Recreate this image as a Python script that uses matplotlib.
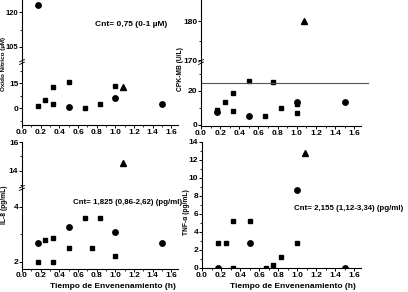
import matplotlib
matplotlib.use("Agg")
import matplotlib.pyplot as plt
from matplotlib.lines import Line2D
from matplotlib.transforms import Bbox, TransformedBbox

plt.rcParams['font.family'] = ['Liberation Sans', 'DejaVu Sans']
plt.rcParams['font.weight'] = 'bold'

# ---------------- data ----------------
# Óxido Nítrico (µM)
no_sq_t = [0.17, 0.25, 0.33, 0.33, 0.5, 0.67, 0.83, 1.0]
no_sq_v = [1.4, 4.8, 13.0, 2.8, 15.6, 0.0, 2.4, 13.6]
no_ci_t = [0.17, 0.5, 1.0, 1.5]
no_ci_v = [123.2, 1.0, 6.2, 2.8]
no_tr_t = [1.08]
no_tr_v = [12.6]

# CPK-MB (U/L)
ck_sq_t = [0.17, 0.25, 0.33, 0.33, 0.5, 0.67, 0.75, 0.83, 1.0, 1.0]
ck_sq_v = [8.5, 13.4, 18.6, 8.2, 26.0, 5.2, 25.2, 10.0, 6.8, 12.3]
ck_ci_t = [0.17, 0.5, 1.0, 1.5]
ck_ci_v = [7.6, 5.2, 13.2, 13.6]
ck_tr_t = [1.08]
ck_tr_v = [180.0]
ck_ref = 24.5

# IL-8 (pg/mL)
il_sq_t = [0.17, 0.25, 0.33, 0.33, 0.5, 0.67, 0.75, 0.83, 1.0]
il_sq_v = [2.0, 2.79, 2.87, 2.0, 2.5, 3.58, 2.5, 3.58, 2.19]
il_ci_t = [0.17, 0.5, 1.0, 1.5]
il_ci_v = [2.68, 3.27, 3.07, 2.68]
il_tr_t = [1.08]
il_tr_v = [14.55]

# TNF-α (pg/mL)
tn_sq_t = [0.17, 0.25, 0.33, 0.33, 0.5, 0.67, 0.75, 0.83, 1.0]
tn_sq_v = [2.8, 2.8, 5.2, 0.0, 5.2, 0.0, 0.3, 1.2, 2.8]
tn_ci_t = [0.17, 0.5, 1.0, 1.5]
tn_ci_v = [0.0, 2.8, 8.7, 0.0]
tn_tr_t = [1.08]
tn_tr_v = [12.8]

x_ticks = [0.0, 0.2, 0.4, 0.6, 0.8, 1.0, 1.2, 1.4, 1.6]
x_ticklabels = ['0.0', '0.2', '0.4', '0.6', '0.8', '1.0', '1.2', '1.4', '1.6']

W, H = 408, 292
fig = plt.figure(figsize=(W / 100, H / 100), dpi=100)
XLIM = (0, 1.67)


def ax_px(l, t, r, b):
    return fig.add_axes([l / W, 1 - b / H, (r - l) / W, (b - t) / H])


def style(ax, xaxis=True):
    for s in ('top', 'right'):
        ax.spines[s].set_visible(False)
    ax.spines['left'].set_linewidth(0.8)
    ax.spines['bottom'].set_linewidth(0.8)
    ax.set_xlim(*XLIM)
    ax.tick_params(direction='out', length=2.0, width=0.7, labelsize=6, pad=0.6)
    ax.tick_params(which='minor', direction='out', length=1.3, width=0.6)
    if xaxis:
        ax.set_xticks(x_ticks)
        ax.set_xticklabels(x_ticklabels)
        ax.set_xticks([0.1, 0.3, 0.5, 0.7, 0.9, 1.1, 1.3, 1.5], minor=True)
    else:
        ax.spines['bottom'].set_visible(False)
        ax.set_xticks([])
        ax.set_xticks([], minor=True)
    ax.patch.set_alpha(0)


def plot_series(ax, sq, ci, tr):
    ax.plot(sq[0], sq[1], 's', ms=2.6, color='k', mec='k')
    ax.plot(ci[0], ci[1], 'o', ms=3.9, color='k', mec='k')
    ax.plot(tr[0], tr[1], '^', ms=3.8, color='k', mec='k')


def break_mark(xpx, ypx):
    for dy in (-1.3, 1.3):
        fig.add_artist(Line2D([(xpx - 2.5) / W, (xpx + 2.5) / W],
                              [1 - (ypx + dy + 1.2) / H, 1 - (ypx + dy - 1.2) / H],
                              transform=fig.transFigure, lw=0.6, color='k'))


# ---------------- top-left: Óxido Nítrico ----------------
tl_lo = ax_px(22, 62, 178, 125)
tl_hi = ax_px(22, 0, 178, 62)
for a in (tl_lo, tl_hi):
    plot_series(a, (no_sq_t, no_sq_v), (no_ci_t, no_ci_v), (no_tr_t, no_tr_v))
style(tl_lo)
style(tl_hi, xaxis=False)
tl_hi.tick_params(labelsize=5.4)
tl_lo.set_ylim(-10, 27.8)
tl_lo.set_yticks([0, 15])
tl_lo.set_yticks([-7.5, 7.5, 22.5], minor=True)
tl_hi.set_ylim(98.3, 125.4)
tl_hi.set_yticks([105, 120])
tl_hi.set_yticks([112.5], minor=True)
break_mark(22, 62)
fig.text(3.2 / W, 1 - 64 / H, 'Óxido Nítrico (µM)', rotation=90, ha='center', va='center', fontsize=4.5)
fig.text(95 / W, 1 - 25 / H, 'Cnt= 0,75 (0-1 µM)', ha='left', va='center', fontsize=6)

# ---------------- top-right: CPK-MB ----------------
tr_lo = ax_px(201, 62, 361, 126)
tr_hi = ax_px(201, 0, 361, 62)
for a in (tr_lo, tr_hi):
    plot_series(a, (ck_sq_t, ck_sq_v), (ck_ci_t, ck_ci_v), (ck_tr_t, ck_tr_v))
style(tr_lo)
style(tr_hi, xaxis=False)
tr_lo.set_ylim(-0.8, 36.9)
tr_lo.set_yticks([0, 20])
tr_lo.set_yticks([10, 30], minor=True)
tr_hi.set_ylim(169.5, 185.4)
tr_hi.set_yticks([170, 180])
tr_hi.set_yticks([175], minor=True)
tr_lo.plot([0, 1.74], [ck_ref, ck_ref], color='#555555', lw=0.8, clip_on=False)
break_mark(201, 62)
fig.text(181 / W, 1 - 69 / H, 'CPK-MB (U/L)', rotation=90, ha='center', va='center', fontsize=4.8)

# ---------------- bottom-left: IL-8 ----------------
bl_lo = ax_px(22, 188, 178, 268.5)
bl_hi = ax_px(22, 142, 178, 188)
for a in (bl_lo, bl_hi):
    plot_series(a, (il_sq_t, il_sq_v), (il_ci_t, il_ci_v), (il_tr_t, il_tr_v))
style(bl_lo)
style(bl_hi, xaxis=False)
bl_lo.set_ylim(1.75, 4.68)
bl_lo.set_yticks([2, 4])
bl_lo.set_yticks([3], minor=True)
bl_hi.set_ylim(12.8, 16.0)
bl_hi.set_yticks([14, 16])
bl_hi.set_yticks([13, 15], minor=True)
break_mark(22, 188)
fig.text(5 / W, 1 - 205 / H, 'IL-8 (pg/mL)', rotation=90, ha='center', va='center', fontsize=4.8)
t_il = fig.text(73 / W, 1 - 202 / H, 'Cnt= 1,825 (0,86-2,62) (pg/ml)', ha='left', va='center', fontsize=5.7)
t_il.set_clip_on(True)
t_il.set_clip_box(TransformedBbox(Bbox.from_extents(0, 0, 186 / W, 1), fig.transFigure))
fig.text(113 / W, 1 - 287 / H, 'Tiempo de Envenenamiento (h)', ha='center', va='center', fontsize=6)

# ---------------- bottom-right: TNF-α ----------------
br = ax_px(202, 142, 361, 268)
plot_series(br, (tn_sq_t, tn_sq_v), (tn_ci_t, tn_ci_v), (tn_tr_t, tn_tr_v))
style(br)
br.set_ylim(0, 14)
br.set_yticks([0, 2, 4, 6, 8, 10, 12, 14])
br.set_yticks([1, 3, 5, 7, 9, 11, 13], minor=True)
fig.text(187 / W, 1 - 212 / H, 'TNF-α (pg/mL)', rotation=90, ha='center', va='center', fontsize=4.8)
fig.text(294 / W, 1 - 208 / H, 'Cnt= 2,155 (1,12-3,34) (pg/ml)', ha='left', va='center', fontsize=5.7)
fig.text(293 / W, 1 - 287 / H, 'Tiempo de Envenenamiento (h)', ha='center', va='center', fontsize=6)

fig.savefig('out.png', dpi=100)
